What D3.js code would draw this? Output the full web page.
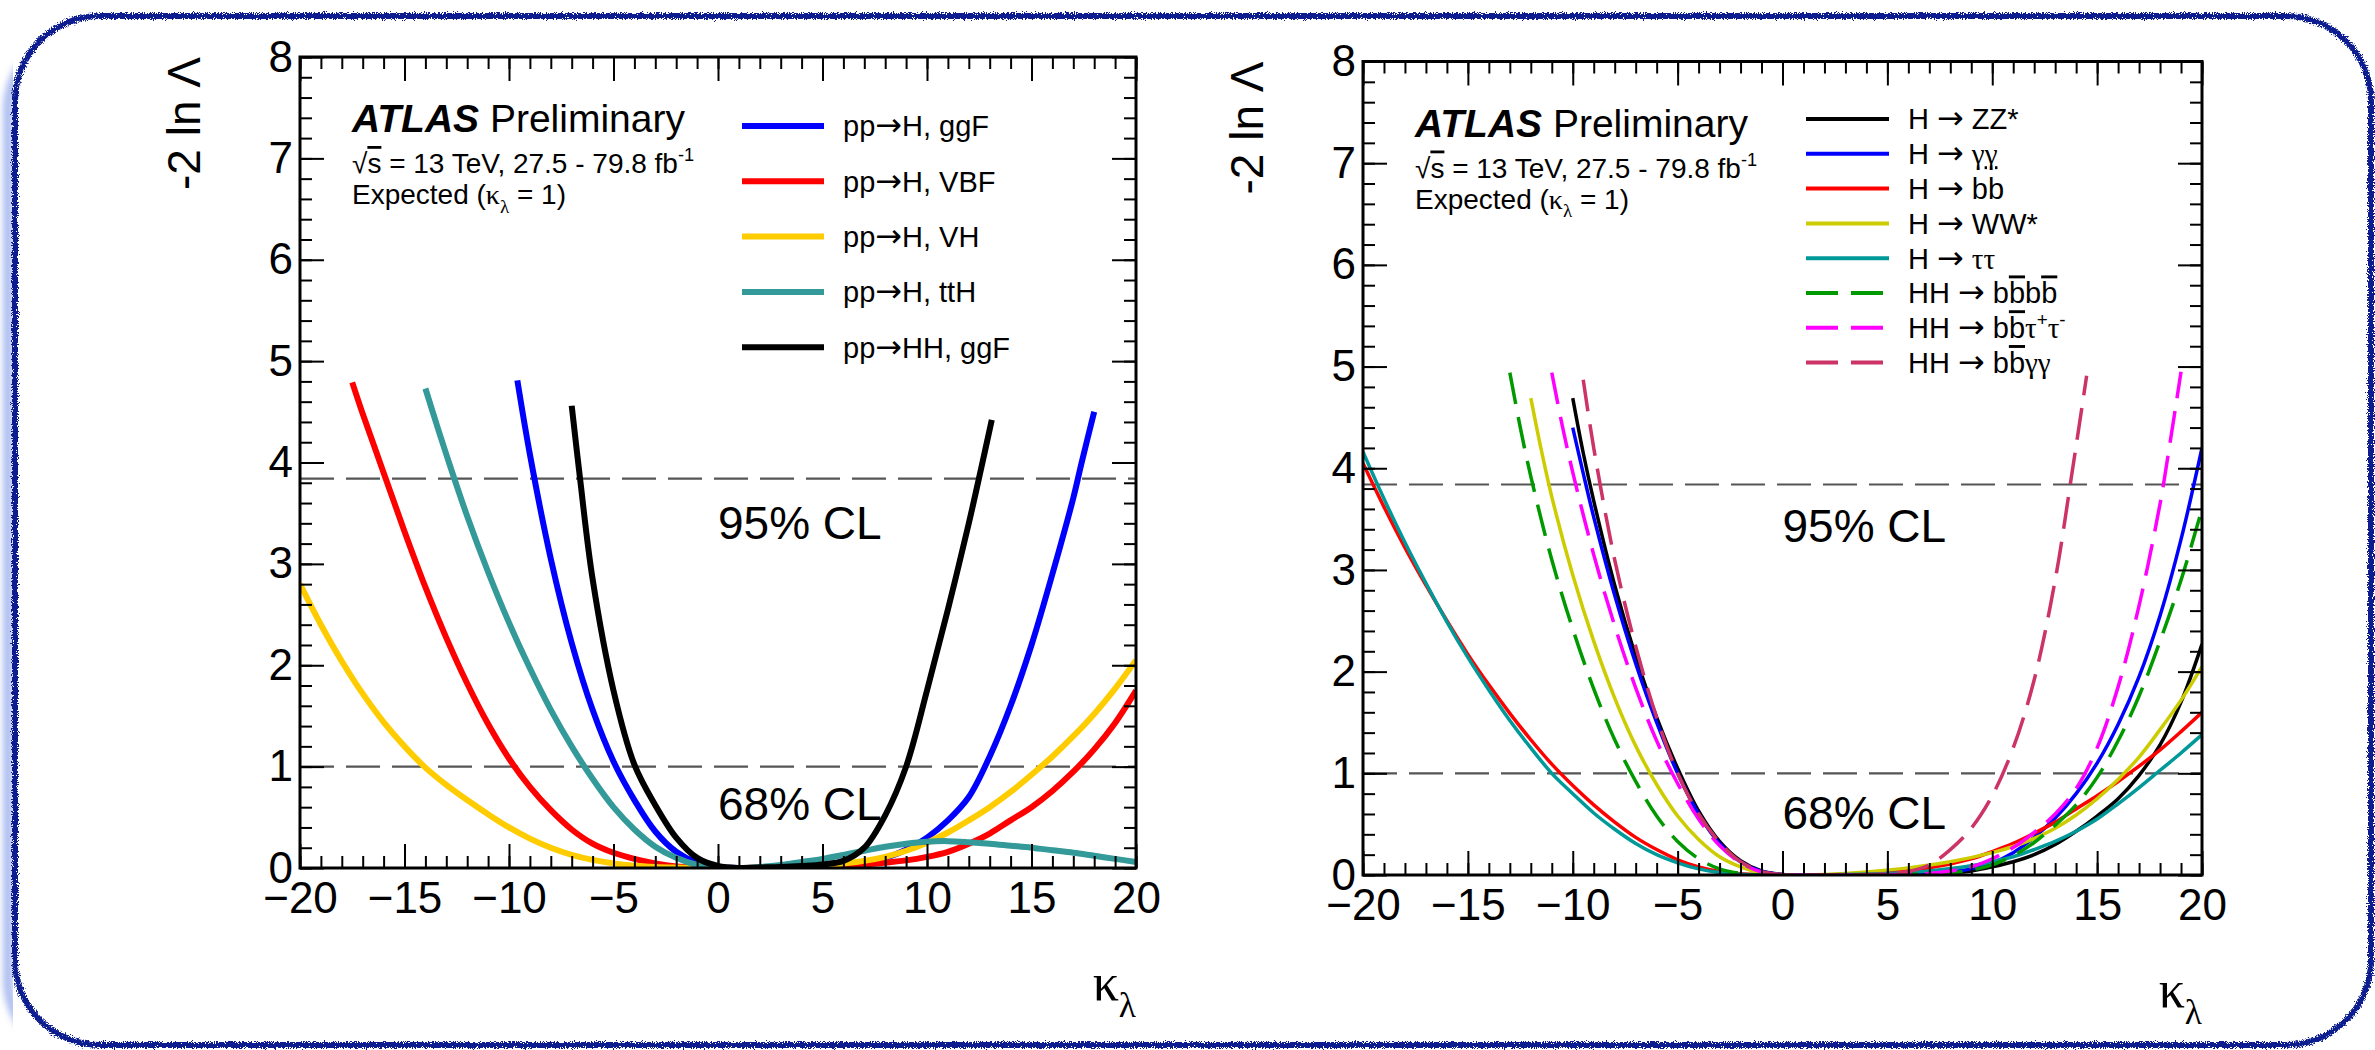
<!DOCTYPE html>
<html><head><meta charset="utf-8">
<script src="https://cdn.jsdelivr.net/npm/d3@7"></script>
<style>
body{margin:0;background:#fff;}
svg{display:block;font-family:"Liberation Sans",Arial,Helvetica,sans-serif;}
</style></head><body>
<svg id="chart" width="2375" height="1050"></svg>
<script>
// ---------------- DATA ----------------
const kappaTicks = [-20,-15,-10,-5,0,5,10,15,20];
const nllTicks = [0,1,2,3,4,5,6,7,8];
const clLevels = [3.84, 1];
const clLabels = ["95% CL", "68% CL"];

// Left panel: production modes  [kappa_lambda, -2lnL]
const prodGGF = [[-9.6,4.81],[-9,4.08],[-8,3.05],[-7,2.22],[-6,1.56],[-5,1.05],[-4,0.67],[-3,0.36],[-2,0.16],[-1,0.05],[0,0.01],[1,0],[3,0.01],[5,0.03],[7,0.06],[8,0.1],[9,0.18],[10,0.3],[11,0.47],[12,0.7],[13,1.1],[14,1.6],[15,2.2],[16,2.9],[17,3.65],[17.4,4.0],[18,4.5]];
const prodVBF = [[-17.5,4.79],[-17,4.48],[-16,3.9],[-15,3.32],[-14,2.77],[-13,2.27],[-12,1.82],[-11,1.42],[-10,1.08],[-9,0.8],[-8,0.57],[-7,0.38],[-6,0.24],[-5,0.15],[-4,0.09],[-3,0.045],[-2,0.016],[-1,0.004],[0,0],[1,0],[3,0.005],[5,0.015],[7,0.035],[9,0.075],[10,0.11],[11,0.16],[12,0.24],[13,0.34],[14,0.47],[15,0.6],[16,0.76],[17,0.95],[18,1.17],[19,1.43],[20,1.75]];
const prodVH  = [[-20,2.8],[-19,2.4],[-18,2.04],[-17,1.72],[-16,1.44],[-15,1.2],[-14,0.99],[-13,0.82],[-12,0.67],[-11,0.53],[-10,0.4],[-9,0.29],[-8,0.2],[-7,0.13],[-6,0.08],[-5,0.045],[-4,0.022],[-3,0.01],[-2,0.004],[-1,0.001],[0,0],[1,0],[3,0.005],[5,0.025],[7,0.07],[8,0.11],[9,0.17],[10,0.25],[11,0.35],[12,0.47],[13,0.6],[14,0.75],[15,0.92],[16,1.1],[17,1.3],[18,1.52],[19,1.77],[20,2.05]];
const prodTTH = [[-14,4.73],[-13.5,4.4],[-13,4.08],[-12,3.47],[-11,2.92],[-10,2.42],[-9,1.97],[-8,1.56],[-7,1.2],[-6,0.88],[-5,0.6],[-4,0.38],[-3,0.21],[-2,0.1],[-1,0.03],[0,0.005],[1,0],[2,0.01],[3,0.03],[4,0.06],[5,0.09],[6,0.13],[7,0.17],[8,0.21],[9,0.24],[10,0.26],[11,0.265],[12,0.255],[13,0.24],[14,0.22],[15,0.2],[16,0.175],[17,0.15],[18,0.12],[19,0.09],[20,0.06]];
const prodHH  = [[-7,4.56],[-6.6,3.84],[-6,2.85],[-5,1.75],[-4,1.02],[-3,0.62],[-2,0.3],[-1,0.1],[0,0.02],[1,0],[2,0.005],[3,0.01],[4,0.02],[5,0.035],[6,0.07],[7,0.2],[8,0.52],[9,1.0],[10,1.75],[11,2.55],[12,3.4],[12.6,3.95],[13.1,4.42]];

// Right panel: decay channels
const decZZ   = [[-10,4.69],[-9.5,4.15],[-9,3.68],[-8,2.85],[-7,2.15],[-6,1.55],[-5,1.05],[-4,0.63],[-3,0.33],[-2,0.14],[-1,0.04],[0,0.005],[1,0],[3,0.002],[5,0.005],[7,0.01],[8,0.02],[9,0.04],[10,0.08],[11,0.13],[12,0.2],[13,0.3],[14,0.43],[15,0.58],[16,0.75],[17,0.98],[18,1.28],[19,1.7],[20,2.27]];
const decGG   = [[-10,4.4],[-9.5,3.95],[-9,3.52],[-8,2.75],[-7,2.08],[-6,1.5],[-5,1.0],[-4,0.6],[-3,0.31],[-2,0.13],[-1,0.035],[0,0.005],[1,0],[3,0.003],[5,0.008],[7,0.018],[8,0.03],[9,0.06],[10,0.12],[11,0.22],[12,0.37],[13,0.56],[14,0.8],[15,1.1],[16,1.48],[17,1.95],[18,2.55],[19,3.3],[20,4.2]];
const decBB   = [[-20,4.05],[-19,3.62],[-18,3.22],[-17,2.85],[-16,2.5],[-15,2.17],[-14,1.87],[-13,1.59],[-12,1.33],[-11,1.09],[-10,0.88],[-9,0.69],[-8,0.52],[-7,0.37],[-6,0.25],[-5,0.15],[-4,0.08],[-3,0.035],[-2,0.012],[-1,0.003],[0,0],[1,0],[3,0.005],[5,0.025],[7,0.07],[9,0.16],[10,0.23],[11,0.31],[12,0.41],[13,0.52],[14,0.65],[15,0.78],[16,0.92],[17,1.07],[18,1.23],[19,1.41],[20,1.6]];
const decWW   = [[-12,4.69],[-11.5,4.18],[-11,3.72],[-10,2.95],[-9,2.3],[-8,1.74],[-7,1.27],[-6,0.89],[-5,0.58],[-4,0.35],[-3,0.18],[-2,0.08],[-1,0.02],[0,0.003],[1,0],[2,0.005],[4,0.03],[6,0.07],[8,0.13],[10,0.22],[11,0.28],[12,0.36],[13,0.46],[14,0.59],[15,0.75],[16,0.94],[17,1.16],[18,1.43],[19,1.72],[20,2.05]];
const decTT   = [[-20,4.16],[-19,3.7],[-18,3.27],[-17,2.87],[-16,2.49],[-15,2.14],[-14,1.82],[-13,1.52],[-12,1.25],[-11,1.0],[-10,0.8],[-9,0.61],[-8,0.45],[-7,0.31],[-6,0.2],[-5,0.12],[-4,0.06],[-3,0.025],[-2,0.008],[-1,0.002],[0,0],[1,0],[3,0.004],[5,0.015],[7,0.04],[9,0.09],[10,0.13],[11,0.18],[12,0.25],[13,0.33],[14,0.43],[15,0.55],[16,0.7],[17,0.86],[18,1.03],[19,1.2],[20,1.38]];
const decBBBB = [[-13,4.94],[-12.5,4.4],[-12,3.92],[-11,3.1],[-10,2.42],[-9,1.83],[-8,1.33],[-7,0.92],[-6,0.58],[-5,0.33],[-4,0.16],[-3,0.06],[-2,0.015],[-1,0.002],[0,0],[1,0],[3,0.001],[5,0.004],[7,0.01],[8,0.02],[9,0.05],[10,0.1],[11,0.19],[12,0.32],[13,0.49],[14,0.69],[15,0.96],[16,1.32],[17,1.76],[18,2.3],[19,2.9],[20,3.6]];
const decBBTT = [[-11,4.94],[-10.5,4.42],[-10,3.96],[-9,3.15],[-8,2.45],[-7,1.84],[-6,1.32],[-5,0.9],[-4,0.55],[-3,0.29],[-2,0.12],[-1,0.03],[0,0.003],[1,0],[3,0.001],[5,0.004],[7,0.015],[8,0.04],[9,0.08],[10,0.16],[11,0.27],[12,0.42],[13,0.6],[14,0.85],[15,1.25],[16,1.85],[17,2.65],[18,3.65],[18.4,4.15],[19,4.95]];
const decBBGG = [[-9.5,4.87],[-9,4.2],[-8,3.1],[-7,2.25],[-6,1.55],[-5,1.0],[-4,0.6],[-3,0.32],[-2,0.13],[-1,0.035],[0,0.003],[1,0],[3,0.002],[4,0.005],[5,0.012],[6,0.035],[7,0.1],[8,0.25],[9,0.46],[10,0.78],[11,1.25],[12,1.92],[13,2.9],[13.8,3.95],[14.5,4.91]];

const leftNames  = [
  [{t:"pp"},{t:"→",arrow:1},{t:"H, ggF"}],
  [{t:"pp"},{t:"→",arrow:1},{t:"H, VBF"}],
  [{t:"pp"},{t:"→",arrow:1},{t:"H, VH"}],
  [{t:"pp"},{t:"→",arrow:1},{t:"H, ttH"}],
  [{t:"pp"},{t:"→",arrow:1},{t:"HH, ggF"}]
];
const leftColors = ["#0000ff","#ff0000","#ffcc00","#339999","#000000"];
const leftData   = [prodGGF, prodVBF, prodVH, prodTTH, prodHH];

const rightNames = [
  [{t:"H "},{t:"→",arrow:1},{t:" ZZ*"}],
  [{t:"H "},{t:"→",arrow:1},{t:" "},{t:"γ",serif:1},{t:"γ",serif:1,under:1}],
  [{t:"H "},{t:"→",arrow:1},{t:" bb"}],
  [{t:"H "},{t:"→",arrow:1},{t:" WW*"}],
  [{t:"H "},{t:"→",arrow:1},{t:" "},{t:"ττ",serif:1}],
  [{t:"HH "},{t:"→",arrow:1},{t:" b"},{t:"b",over:1},{t:"b"},{t:"b",over:1}],
  [{t:"HH "},{t:"→",arrow:1},{t:" b"},{t:"b",over:1},{t:"τ",serif:1},{t:"+",sup:1},{t:"τ",serif:1},{t:"-",sup:1}],
  [{t:"HH "},{t:"→",arrow:1},{t:" b"},{t:"b",over:1},{t:"γγ",serif:1}]
];
const rightColors = ["#000000","#0000ff","#ff0000","#cccc00","#009999","#009900","#ff00ff","#cc3366"];
const rightDashed = [false,false,false,false,false,true,true,true];
const rightData   = [decZZ, decGG, decBB, decWW, decTT, decBBBB, decBBTT, decBBGG];

const energyText = [{t:"√"},{t:"s",over:1},{t:" = 13 TeV, 27.5 - 79.8 fb"},{t:"-1",sup:1}];
const expText    = [{t:"Expected ("},{t:"κ",serif:1},{t:"λ",serif:1,sub:1},{t:" = 1)"}];
const xTitle     = [{t:"κ",serif:1},{t:"λ",serif:1,sub:1}];

// ---------------- DRAWING ----------------
const svg = d3.select("#chart");
const defs = svg.append("defs");
const rough = defs.append("filter").attr("id","rough").attr("x","-2%").attr("y","-2%").attr("width","104%").attr("height","104%");
rough.append("feTurbulence").attr("type","fractalNoise").attr("baseFrequency","0.9").attr("numOctaves",2).attr("seed",4).attr("result","noise");
rough.append("feDisplacementMap").attr("in","SourceGraphic").attr("in2","noise").attr("scale",7).attr("xChannelSelector","R").attr("yChannelSelector","G");
const glow = defs.append("filter").attr("id","glow").attr("x","-5%").attr("y","-5%").attr("width","110%").attr("height","110%");
glow.append("feGaussianBlur").attr("stdDeviation",3);
defs.append("clipPath").attr("id","glowClip").append("rect").attr("x",0).attr("y",0).attr("width",13).attr("height",1050);

// border (left-side shadow + rough frame)
svg.append("g").attr("clip-path","url(#glowClip)")
  .append("rect").attr("x",8).attr("y",30).attr("width",2360).attr("height",1030).attr("rx",80)
  .attr("fill","none").attr("stroke","#aebef0").attr("stroke-width",10).attr("filter","url(#glow)");
svg.append("rect").attr("x",15).attr("y",16).attr("width",2356).attr("height",1029).attr("rx",85)
  .attr("fill","none").attr("stroke","#0a1f8f").attr("stroke-width",6).attr("filter","url(#rough)");

function rich(sel, segs, size) {
  let shift = 0;
  segs.forEach(s => {
    const ts = sel.append("tspan").text(s.t);
    let target = 0, fs = size;
    if (s.sup) { target = -0.42*size; fs = size*0.65; }
    if (s.sub) { target = 0.32*size; fs = size*0.68; }
    if (s.arrow) { fs = size*1.1; }
    ts.attr("dy", target - shift).attr("font-size", fs);
    shift = target;
    if (s.serif) ts.attr("font-family","'Liberation Serif','DejaVu Serif',serif");
    if (s.arrow) ts.attr("font-family","'DejaVu Sans',sans-serif");
    if (s.over) ts.attr("text-decoration","overline");
    if (s.under) ts.attr("text-decoration","underline");
  });
}

function panel(cfg) {
  const g = svg.append("g");
  const x = d3.scaleLinear().domain([-20,20]).range([cfg.x0,cfg.x1]);
  const y = d3.scaleLinear().domain([0,8]).range([cfg.y1,cfg.y0]);
  const cid = "clip"+cfg.id;
  defs.append("clipPath").attr("id",cid).append("rect")
    .attr("x",cfg.x0).attr("y",cfg.y0).attr("width",cfg.x1-cfg.x0).attr("height",cfg.y1-cfg.y0);

  // CL reference lines
  g.selectAll(".cl").data(clLevels).join("line")
    .attr("x1",x(-20)).attr("x2",x(20)).attr("y1",d=>y(d)).attr("y2",d=>y(d))
    .attr("stroke","#555").attr("stroke-width",2.2).attr("stroke-dasharray","34,12");
  g.selectAll(".cllab").data(clLabels).join("text")
    .attr("x",x(0)).attr("y",(d,i)=>y(cfg.clLabY[i])).attr("font-size",46).text(d=>d);

  // curves
  const line = d3.line().x(d=>x(d[0])).y(d=>y(d[1])).curve(d3.curveCatmullRom.alpha(0.5));
  const cg = g.append("g").attr("clip-path",`url(#${cid})`);
  cfg.order.forEach(i => {
    cg.append("path").attr("d",line(cfg.data[i])).attr("fill","none")
      .attr("stroke",cfg.colors[i]).attr("stroke-width",cfg.lw)
      .attr("stroke-dasharray",cfg.dashed && cfg.dashed[i] ? "32,13" : null)
      .attr("stroke-linejoin","round");
  });

  // axes
  const styleAx = a => { a.select(".domain").remove(); a.selectAll("line").attr("stroke","#000").attr("stroke-width",2); a.selectAll("text").attr("font-size",44).attr("fill","#000"); a.attr("font-family",null).attr("font-size",null); };
  g.append("g").attr("transform",`translate(0,${cfg.y1})`)
    .call(d3.axisBottom(x).tickValues(kappaTicks).tickSize(-24).tickSizeOuter(0).tickPadding(14)).call(styleAx);
  g.append("g").attr("transform",`translate(0,${cfg.y1})`)
    .call(d3.axisBottom(x).ticks(40).tickSize(-12).tickSizeOuter(0).tickFormat("")).call(styleAx);
  g.append("g").attr("transform",`translate(0,${cfg.y0})`)
    .call(d3.axisTop(x).tickValues(kappaTicks).tickSize(-24).tickSizeOuter(0).tickFormat("")).call(styleAx);
  g.append("g").attr("transform",`translate(0,${cfg.y0})`)
    .call(d3.axisTop(x).ticks(40).tickSize(-12).tickSizeOuter(0).tickFormat("")).call(styleAx);
  g.append("g").attr("transform",`translate(${cfg.x0},0)`)
    .call(d3.axisLeft(y).tickValues(nllTicks).tickSize(-24).tickSizeOuter(0).tickPadding(7)).call(styleAx);
  g.append("g").attr("transform",`translate(${cfg.x0},0)`)
    .call(d3.axisLeft(y).ticks(40).tickSize(-12).tickSizeOuter(0).tickFormat("")).call(styleAx);
  g.append("g").attr("transform",`translate(${cfg.x1},0)`)
    .call(d3.axisRight(y).tickValues(nllTicks).tickSize(-24).tickSizeOuter(0).tickFormat("")).call(styleAx);
  g.append("g").attr("transform",`translate(${cfg.x1},0)`)
    .call(d3.axisRight(y).ticks(40).tickSize(-12).tickSizeOuter(0).tickFormat("")).call(styleAx);
  g.append("rect").attr("x",cfg.x0).attr("y",cfg.y0).attr("width",cfg.x1-cfg.x0).attr("height",cfg.y1-cfg.y0)
    .attr("fill","none").attr("stroke","#000").attr("stroke-width",3);

  // axis titles
  g.append("text").attr("transform",`translate(${cfg.x0-100},${cfg.y0}) rotate(-90)`)
    .attr("text-anchor","end").attr("font-size",46).text("-2 ln Λ");
  const xt = g.append("text").attr("x",cfg.x1).attr("y",cfg.y1+132).attr("text-anchor","end").attr("font-size",52);
  rich(xt, xTitle, 52);

  // ATLAS label
  const tx = cfg.x0+52;
  const at = g.append("text").attr("x",tx).attr("y",cfg.y0+75).attr("font-size",39);
  at.append("tspan").attr("font-weight","bold").attr("font-style","italic").text("ATLAS");
  at.append("tspan").text(" Preliminary");
  rich(g.append("text").attr("x",tx).attr("y",cfg.y0+116).attr("font-size",28), energyText, 28);
  rich(g.append("text").attr("x",tx).attr("y",cfg.y0+147).attr("font-size",28), expText, 28);

  // legend
  const lg = g.append("g");
  cfg.names.forEach((nm,i) => {
    const yy = cfg.legY0 + i*cfg.legDy;
    lg.append("line").attr("x1",cfg.legX0).attr("x2",cfg.legX1).attr("y1",yy).attr("y2",yy)
      .attr("stroke",cfg.colors[i]).attr("stroke-width",cfg.legLw)
      .attr("stroke-dasharray",cfg.dashed && cfg.dashed[i] ? "32,13" : null);
    const t = lg.append("text").attr("x",cfg.legTx).attr("y",yy+cfg.legFs*0.36).attr("font-size",cfg.legFs);
    rich(t, nm, cfg.legFs);
  });
}

panel({id:"L", x0:300, x1:1136, y0:57, y1:868, data:leftData, colors:leftColors, order:[0,1,2,3,4], lw:6,
  clLabY:[3.25,0.47], names:leftNames, legX0:742, legX1:824, legTx:843, legY0:126, legDy:55.3, legLw:6, legFs:29});
panel({id:"R", x0:1363, x1:2202, y0:61.5, y1:875, data:rightData, colors:rightColors, dashed:rightDashed, order:[0,1,2,3,4,5,6,7], lw:3.5,
  clLabY:[3.27,0.45], names:rightNames, legX0:1806, legX1:1889, legTx:1908, legY0:119, legDy:34.8, legLw:4, legFs:29});
</script>
</body></html>
